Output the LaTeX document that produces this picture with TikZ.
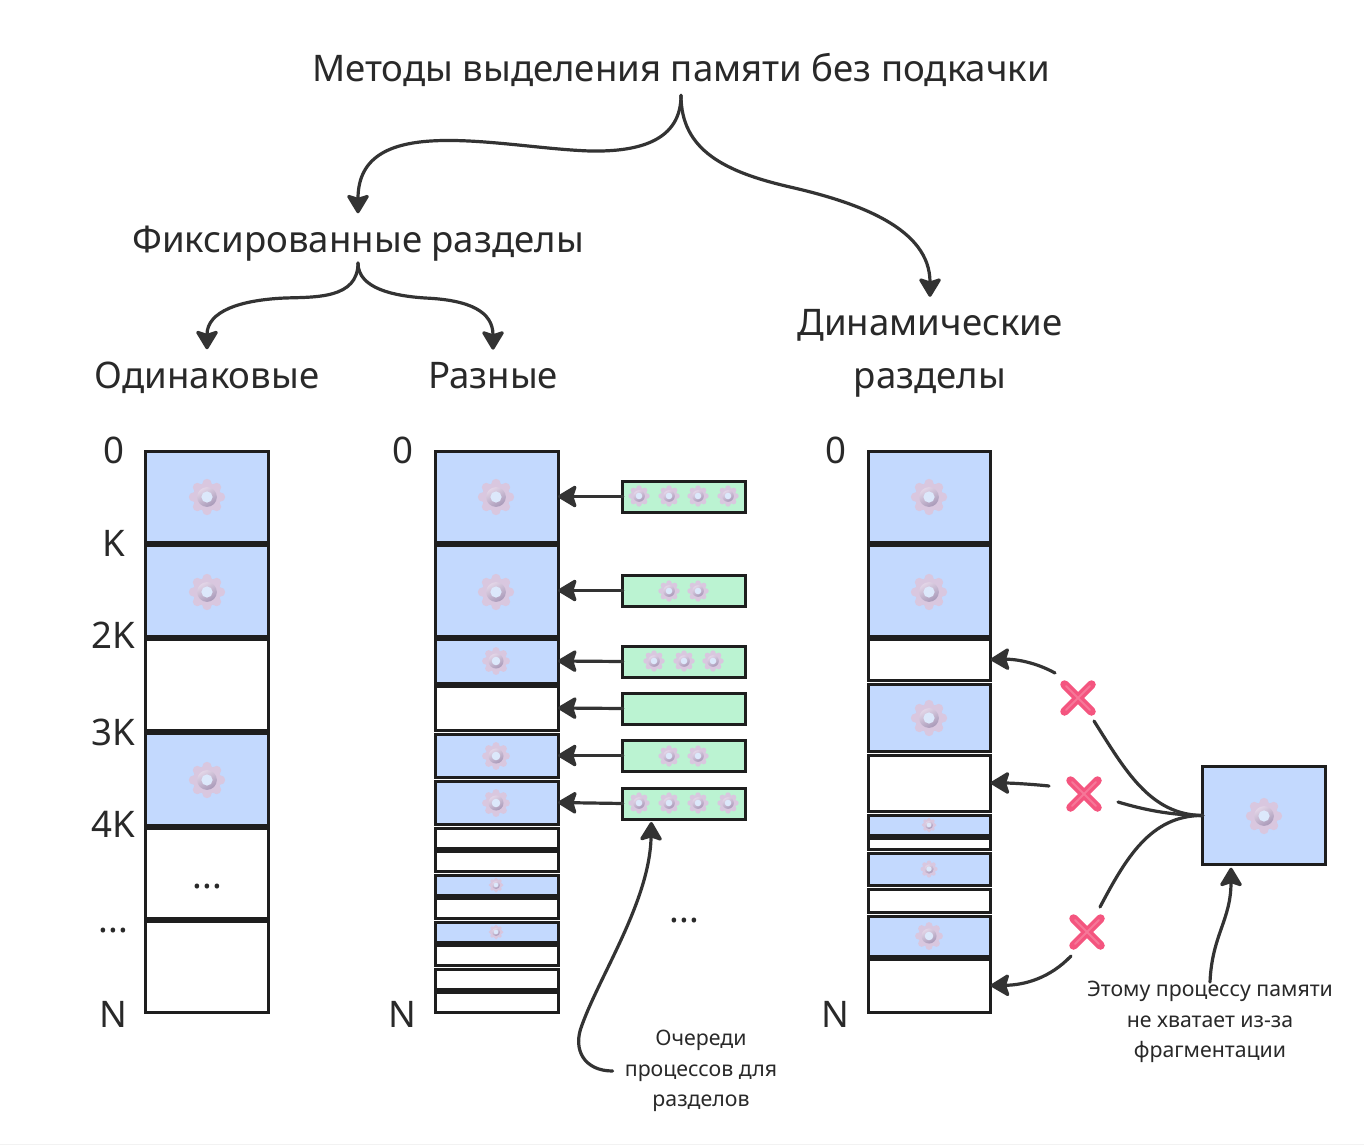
\documentclass[tikz,border=0pt]{standalone}
\usepackage{fontspec}
\setmainfont{Noto Sans}
\usetikzlibrary{arrows.meta,calc}
\definecolor{ink}{HTML}{1E1E1E}
\definecolor{wire}{HTML}{333333}
\definecolor{procblue}{HTML}{C3D9FE}
\definecolor{queuegreen}{HTML}{BBF3D2}
\definecolor{crossred}{HTML}{F4557F}
\definecolor{gearpetal}{HTML}{D9C7DF}
\definecolor{gearring}{HTML}{A899B8}
\definecolor{gearhole}{HTML}{DCE8FB}
\tikzset{
  x=1pt,y=-1pt,
  memcell/.style={draw=ink,line width=3pt,inner sep=0pt,outer sep=0pt,fill=white},
  proccell/.style={memcell,fill=procblue},
  queuecell/.style={memcell,fill=queuegreen},
  bigtext/.style={font=\fontsize{36.6}{53}\selectfont,text=ink!95,inner sep=0pt,anchor=base},
  smalltext/.style={font=\fontsize{21.3}{30.5}\selectfont,text=ink!95,inner sep=0pt,align=center},
  wireline/.style={draw=wire,line width=3.2pt,line cap=round},
  wirearrow/.style={wireline,-{Stealth[length=21pt,width=25pt,inset=4pt,round]}},
  crossmark/.pic={
    \draw[crossred,line width=8.5pt,line cap=round] (-13.5,-13.5)--(13.5,13.5) (-13.5,13.5)--(13.5,-13.5);
    \draw[crossred!80!white,line width=2pt,line cap=round] (-12,-12)--(12,12) (-12,12)--(12,-12);
  },
  cog/.pic={
    \foreach \a in {90,135,...,405}{\fill[gearpetal] (\a:0.8) circle[radius=0.27];}
    \fill[gearpetal] (0,0) circle[radius=0.82];
    \shade[top color=gearpetal!75!white,bottom color=gearring,shading angle=30] (0,0) circle[radius=0.58];
    \fill[gearhole] (0,0) circle[radius=0.33];
  }
}
\newcommand{\memrow}[6]{% name, left, right, top, bottom, style
  \node[#6,minimum width={#3-#2},minimum height={#5-#4}] (#1) at ({(#2+#3)/2},{(#4+#5)/2}) {};}
\begin{document}
\begin{tikzpicture}
\useasboundingbox (0,0) rectangle (1364,1145);
\fill[white] (0,0) rectangle (1364,1145);
\fill[black!5] (0,1143.5) rectangle (1364,1145);
% headings
\node[bigtext] (title) at (681,82) {Методы выделения памяти без подкачки};
\node[bigtext] (fixed) at (358,252) {Фиксированные разделы};
\node[bigtext] (same) at (207,388) {Одинаковые};
\node[bigtext] (diff) at (493,388) {Разные};
\node[bigtext,align=center,anchor=center] (dyn) at (930,353) {Динамические\\разделы};
% labels column 1
\node[bigtext] (a0) at (113.5,463) {0};
\node[bigtext] (a1) at (113.5,556) {K};
\node[bigtext] (a2) at (113,648) {2K};
\node[bigtext] (a3) at (113,745) {3K};
\node[bigtext] (a4) at (113,837) {4K};
\node[bigtext] (a5) at (113.5,932) {...};
\node[bigtext] (a6) at (113,1027) {N};
\node[bigtext] (b0) at (402.5,463) {0};
\node[bigtext] (b6) at (402,1027) {N};
\node[bigtext] (c0) at (835.5,463) {0};
\node[bigtext] (c6) at (835,1027) {N};
% column 1
\memrow{a-r1}{145.8}{268.7}{451}{542}{proccell}
\memrow{a-r2}{145.8}{268.7}{545}{636}{proccell}
\memrow{a-r3}{145.8}{268.7}{639}{730}{memcell}
\memrow{a-r4}{145.8}{268.7}{733}{825}{proccell}
\memrow{a-r5}{145.8}{268.7}{828}{918}{memcell}
\memrow{a-r6}{145.8}{268.7}{921}{1012}{memcell}
\pic[scale=17] at (207,497) {cog};
\pic[scale=17] at (207,592) {cog};
\pic[scale=17] at (207,780) {cog};
\node[bigtext] (a-dots) at (207.5,888) {...};
% column 2
\memrow{r1}{435}{558}{451}{542}{proccell}
\memrow{r2}{435}{558}{545}{636}{proccell}
\memrow{r3}{435}{558}{639}{683}{proccell}
\memrow{r4}{435}{558}{686}{730}{memcell}
\memrow{r5}{435}{558}{734}{777}{proccell}
\memrow{r6}{435}{558}{781}{824}{proccell}
\memrow{r7}{435}{558}{828}{848}{memcell}
\memrow{r8}{435}{558}{851}{871}{memcell}
\memrow{r9}{435}{558}{875}{895}{proccell}
\memrow{r10}{435}{558}{898}{918}{memcell}
\memrow{r11}{435}{558}{922}{942}{proccell}
\memrow{r12}{435}{558}{945}{965}{memcell}
\memrow{r13}{435}{558}{969}{989}{memcell}
\memrow{r14}{435}{558}{992}{1012}{memcell}
\pic[scale=17] at (496,497) {cog};
\pic[scale=17] at (496,592) {cog};
\pic[scale=13] at (496,661) {cog};
\pic[scale=13] at (496,756) {cog};
\pic[scale=13] at (496,803) {cog};
\pic[scale=7] at (496,885) {cog};
\pic[scale=7] at (496,932) {cog};
% queues
\memrow{q1}{622.8}{745.8}{481}{512}{queuecell}
\memrow{q2}{622.8}{745.8}{575}{606}{queuecell}
\memrow{q3}{622.8}{745.8}{646}{677}{queuecell}
\memrow{q4}{622.8}{745.8}{693}{724}{queuecell}
\memrow{q5}{622.8}{745.8}{740}{771}{queuecell}
\memrow{q6}{622.8}{745.8}{788}{819}{queuecell}
\foreach \px/\py in {639/496,669/496,698/496,728/496,669/591,698/591,654/661,684/661,713/661,669/756,698/756,639/803,669/803,698/803,728/803}{
  \pic[scale=10] at (\px,\py) {cog};
}
\node[bigtext] (q-dots) at (684.5,922) {...};
% column 3
\memrow{c1}{868.2}{990.7}{451}{542}{proccell}
\memrow{c2}{868.2}{990.7}{545}{636}{proccell}
\memrow{c3}{868.2}{990.7}{639}{680}{memcell}
\memrow{c4}{868.2}{990.7}{684}{751}{proccell}
\memrow{c5}{868.2}{990.7}{755}{811}{memcell}
\memrow{c6}{868.2}{990.7}{815}{835}{proccell}
\memrow{c7}{868.2}{990.7}{838}{849}{memcell}
\memrow{c8}{868.2}{990.7}{853}{885}{proccell}
\memrow{c9}{868.2}{990.7}{889}{912}{memcell}
\memrow{c10}{868.2}{990.7}{916}{956}{proccell}
\memrow{c11}{868.2}{990.7}{959}{1012}{memcell}
\pic[scale=17] at (929,497) {cog};
\pic[scale=17] at (929,592) {cog};
\pic[scale=17] at (929,718) {cog};
\pic[scale=7] at (929,825) {cog};
\pic[scale=8] at (929,869) {cog};
\pic[scale=13] at (929,936) {cog};
% process
\memrow{proc}{1202.7}{1325.3}{766.3}{864.7}{proccell}
\pic[scale=17] at (1264,816) {cog};
% notes
\node[smalltext] (qnote) at (701,1071) {Очереди\\процессов для\\разделов};
\node[smalltext] (pnote) at (1210,1022) {Этому процессу памяти\\не хватает из-за\\фрагментации};
% crosses
\coordinate (x1) at (1078,698);
\coordinate (x2) at (1084,794);
\coordinate (x3) at (1087,932);
\pic at (x1) {crossmark};
\pic at (x2) {crossmark};
\pic at (x3) {crossmark};
% tree connectors
\draw[wirearrow] ([yshift=-8pt]title.south) .. controls ++(0,45) and (640,152) .. (590,151) .. controls (500,148) and ($(fixed.north)+(0,-115)$) .. ([yshift=12pt]fixed.north);
\draw[wirearrow] ([yshift=-8pt]title.south) .. controls ++(0,55) and (725,172) .. (790,187) .. controls (860,203) and ($(dyn.north)+(0,-80)$) .. ([yshift=12pt]dyn.north);
\draw[wirearrow] ([yshift=-2pt]fixed.south) .. controls ++(0,36) and (315,297) .. (285,298) .. controls (240,300) and ($(same.north)+(0,-50)$) .. ([yshift=12pt]same.north);
\draw[wirearrow] ([yshift=-2pt]fixed.south) .. controls ++(0,26) and (395,296) .. (425,298) .. controls (470,300) and ($(diff.north)+(0,-50)$) .. ([yshift=12pt]diff.north);
% queue arrows
\foreach \n in {1,...,6}{\draw[wirearrow] (q\n.west) -- (r\n.east);}
% note arrows
\draw[wirearrow] ([xshift=-12pt]qnote.west) .. controls ++(-28,0) and (572,1050) .. (582,1025) .. controls (600,975) and (650,900) .. ([xshift=-33pt,yshift=-3pt]q6.south);
\draw[wirearrow] ([yshift=-1pt]pnote.north) .. controls (1212,935) and (1231,920) .. ([xshift=-33pt,yshift=-3pt]proc.south);
% process to memory
\draw[wireline] (proc.west) .. controls (1150,815) and (1125,770) .. (1094,721);
\draw[wirearrow] (1055,673) .. controls (1035,662) and (1015,659) .. (c3.east);
\draw[wireline] (proc.west) .. controls (1170,815) and (1145,810) .. (1118,802);
\draw[wirearrow] (1049,786) .. controls (1030,784) and (1010,783) .. (c5.east);
\draw[wireline] (proc.west) .. controls (1150,815) and (1125,860) .. (1100,907);
\draw[wirearrow] (1071,956) .. controls (1050,978) and (1025,985) .. (c11.east);
\end{tikzpicture}
\end{document}
